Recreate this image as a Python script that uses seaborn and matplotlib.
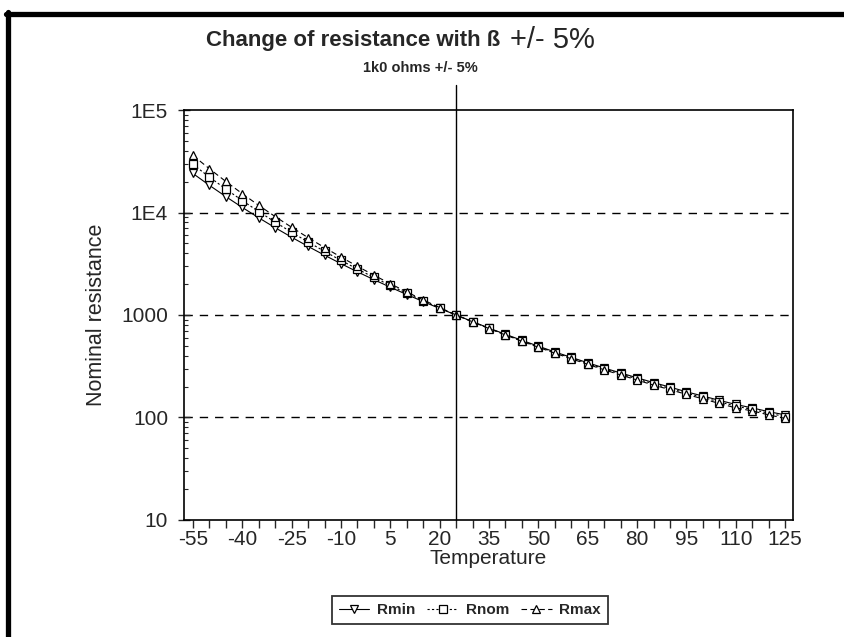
import numpy as np
import pandas as pd
import matplotlib.pyplot as plt
from matplotlib.lines import Line2D
from matplotlib.ticker import FixedLocator, FixedFormatter, LogLocator, NullFormatter
import seaborn as sns

# --- Data ---
temperature = list(range(-55, 130, 5))

r_min = [24030, 18430, 14290, 11210, 8879, 7107, 5737, 4670, 3832, 3168, 2637, 2212,
         1866, 1583, 1351, 1158, 1000, 861, 745, 648, 566, 496, 436, 386, 342, 304,
         272, 244, 219, 198, 178, 162, 147, 134, 124, 114, 106]
r_nom = [29440, 22200, 16940, 13080, 10210, 8055, 6414, 5153, 4175, 3410, 2806, 2326,
         1941, 1630, 1377, 1170, 1000, 859, 741, 643, 560, 490, 430, 380, 336, 298,
         266, 238, 213, 192, 173, 157, 142, 129, 120, 110, 102]
r_max = [36070, 26740, 20080, 15270, 11740, 9130, 7171, 5686, 4549, 3671, 2986, 2447,
         2019, 1678, 1403, 1182, 1000, 857, 737, 638, 554, 484, 424, 374, 330, 292,
         260, 232, 207, 187, 168, 152, 137, 124, 116, 106, 98]

series_names = ["Rmin", "Rnom", "Rmax"]
y_ticks = [10, 100, 1000, 1e4, 1e5]
y_tick_labels = ["10", "100", "1000", "1E4", "1E5"]
x_tick_labels = list(range(-55, 130, 15))

sns.set_style("white")
plt.rcParams['font.family'] = ['Liberation Sans', 'DejaVu Sans']

fig = plt.figure(figsize=(8.45, 6.37), dpi=100)
ax = fig.add_axes([0.2178, 0.1837, 0.7207, 0.6436])

styles = {
    "Rmin": dict(linestyle='-', marker='v'),
    "Rnom": dict(linestyle=(0, (2, 2)), marker='s'),
    "Rmax": dict(linestyle=(0, (5, 3)), marker='^'),
}
for name, vals in zip(series_names, [r_min, r_nom, r_max]):
    sns.lineplot(x=temperature, y=vals, ax=ax, color='black', lw=0.8,
                 markersize=5.5, mfc='white', mec='black', mew=0.9,
                 label=name, **styles[name])

ax.set_yscale('log')
ax.set_ylim(10, 1e5)
ax.set_xlim(-57.7, 127.4)

ax.yaxis.set_major_locator(FixedLocator(y_ticks))
ax.yaxis.set_major_formatter(FixedFormatter(y_tick_labels))
ax.yaxis.set_minor_locator(LogLocator(base=10, subs=np.arange(2, 10)))
ax.yaxis.set_minor_formatter(NullFormatter())

ax.set_xticks(temperature, minor=True)
ax.set_xticks(x_tick_labels)
ax.set_xticklabels([str(t) for t in x_tick_labels])

ax.tick_params(axis='y', which='major', direction='inout', length=9, width=1,
               labelsize=15, pad=7, left=True)
ax.tick_params(axis='y', which='minor', direction='in', length=3, width=0.8, left=True)
ax.tick_params(axis='x', which='both', direction='out', length=6, width=1,
               labelsize=15, pad=1, bottom=True)

for s in ax.spines.values():
    s.set_color('black')
    s.set_linewidth(1.2)

# dashed grid at inner decades
for yv in y_ticks[1:-1]:
    ax.axhline(yv, color='black', lw=1, ls=(0, (6, 5)), zorder=0)

# reference line at 25 degrees
ax.axvline(25, ymin=0, ymax=1.062, color='black', lw=1, clip_on=False)

ax.set_xlabel("Temperature", fontsize=15, labelpad=0)
ax.set_ylabel("Nominal resistance", fontsize=15.5, labelpad=10)

# title: bold part + regular part
fig.text(500 / 845, 0.937, "Change of resistance with ß", ha='right', va='center',
         fontsize=16, fontweight='bold')
fig.text(510 / 845, 0.937, "+/- 5%", ha='left', va='center', fontsize=21)
fig.text(0.497, 0.893, "1k0 ohms +/- 5%", ha='center', va='center',
         fontsize=10.5, fontweight='bold')

handles, labels = ax.get_legend_handles_labels()
leg = ax.legend(handles, labels, ncol=3, loc='center', bbox_to_anchor=(0.556, 0.042),
                bbox_transform=fig.transFigure, fontsize=11, frameon=True, fancybox=False,
                edgecolor='black', handlelength=2.0, handletextpad=0.5, columnspacing=0.8,
                borderpad=0.45)
leg.get_frame().set_linewidth(1.3)
for t in leg.get_texts():
    t.set_fontweight('bold')

# thick scanned frame along top and left edges
fig.add_artist(Line2D([6 / 845, 1.0], [1 - 14 / 637, 1 - 14 / 637],
                      transform=fig.transFigure, color='black', lw=3.8))
fig.add_artist(Line2D([8.5 / 845, 8.5 / 845], [0, 1 - 12 / 637],
                      transform=fig.transFigure, color='black', lw=3.8))

fig.savefig("out.png", dpi=100)
